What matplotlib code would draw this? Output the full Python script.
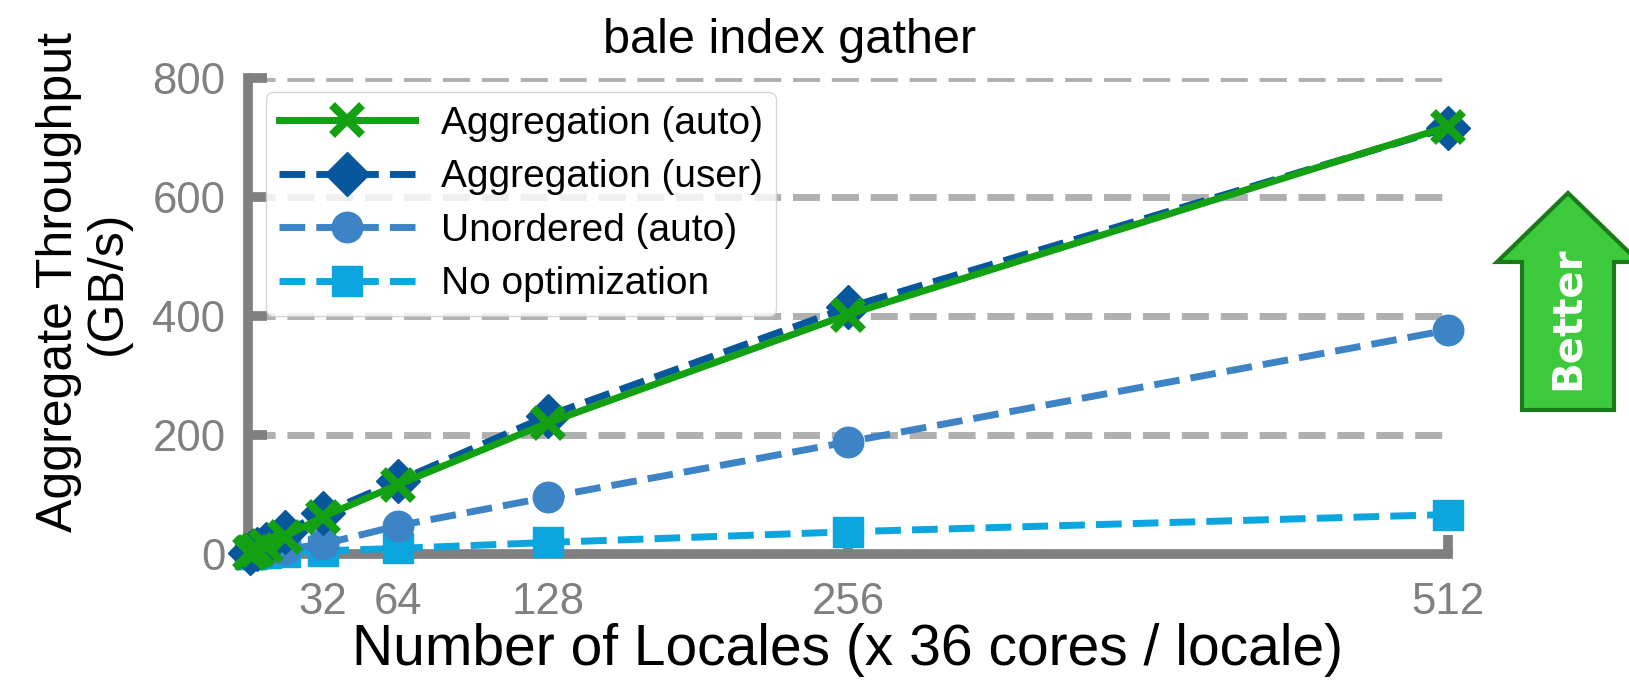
import matplotlib
matplotlib.use("Agg")

import matplotlib.pyplot as plt
from matplotlib.patches import Polygon

plt.rcParams["font.family"] = ["Liberation Sans", "DejaVu Sans"]

locales = [1, 2, 4, 8, 16, 32, 64, 128, 256, 512]
agg_auto = [1.5, 3, 6, 13, 29, 62, 116, 220, 402, 718]
agg_user = [2, 4, 8, 17, 37, 68, 122, 232, 414, 716]
unordered = [0.5, 1, 2, 4, 8, 16, 47, 95, 188, 376]
no_opt = [0.2, 0.4, 0.8, 1.5, 3, 5, 9, 19, 37, 66]

xticks = [32, 64, 128, 256, 512]
yticks = [0, 200, 400, 600, 800]

GRAY = "#808080"

fig = plt.figure(figsize=(16.29, 6.82), dpi=100)
ax = fig.add_axes([0.152, 0.188, 0.737, 0.698])

for y in yticks[1:]:
    ax.axhline(y, color="#b0b0b0", lw=5, ls=(0, (3.9, 1.7)), zorder=0.5)

kw = dict(lw=5, ms=22, clip_on=False)
ax.plot(locales, no_opt, "--s", color="#0ba5e0", label="No optimization", zorder=3, **kw)
ax.plot(locales, unordered, "--o", color="#3d84c6", label="Unordered (auto)", zorder=3, **kw)
ax.plot(locales, agg_user, "--D", color="#08569c", label="Aggregation (user)", zorder=4, **kw)
ax.plot(locales, agg_auto, "-x", color="#13a013", mew=6, label="Aggregation (auto)", zorder=5, **kw)

ax.set_xlim(0, 512)
ax.set_ylim(0, 800)
ax.set_xticks(xticks)
ax.set_yticks(yticks)

for s in ["top", "right"]:
    ax.spines[s].set_visible(False)
for s in ["left", "bottom"]:
    ax.spines[s].set_color(GRAY)
    ax.spines[s].set_linewidth(7)
    ax.spines[s].set_zorder(2)

ax.tick_params(direction="in", length=14, width=7, color=GRAY,
               labelcolor=GRAY, labelsize=31.5)
ax.tick_params(axis="y", pad=16)
ax.tick_params(axis="x", pad=20)

ax.set_title("bale index gather", fontsize=35, pad=18, x=0.451)
ax.set_xlabel("Number of Locales (x 36 cores / locale)", fontsize=41, labelpad=0)
ax.set_ylabel("Aggregate Throughput\n(GB/s)", fontsize=36, linespacing=1.1)
ax.yaxis.set_label_coords(-0.097, 0.57)

h, l = ax.get_legend_handles_labels()
leg = ax.legend(h[::-1], l[::-1], loc="upper left", bbox_to_anchor=(0.015, 0.97),
                borderaxespad=0, fontsize=28, handlelength=3.5, handletextpad=0.65,
                labelspacing=0.45, borderpad=0.35, frameon=True, fancybox=True)
leg.get_frame().set_edgecolor("#cccccc")

# "Better" arrow in figure pixels
W, H = 1629, 682
cx, tip, base, bottom = 1568, 193, 262, 410
hw, sw = 71, 46
pts = [(cx, tip), (cx + hw, base), (cx + sw, base), (cx + sw, bottom),
       (cx - sw, bottom), (cx - sw, base), (cx - hw, base)]
pts = [(x / W, 1 - y / H) for x, y in pts]
fig.patches.append(Polygon(pts, closed=True, transform=fig.transFigure,
                           facecolor="#3cc93c", edgecolor="#1a7a1a", lw=3))
fig.text(cx / W, 1 - 318 / H, "Better", rotation=90, ha="center", va="center",
         color="white", fontsize=29, fontweight="bold", family="DejaVu Sans")

fig.savefig("out.png", dpi=100)
